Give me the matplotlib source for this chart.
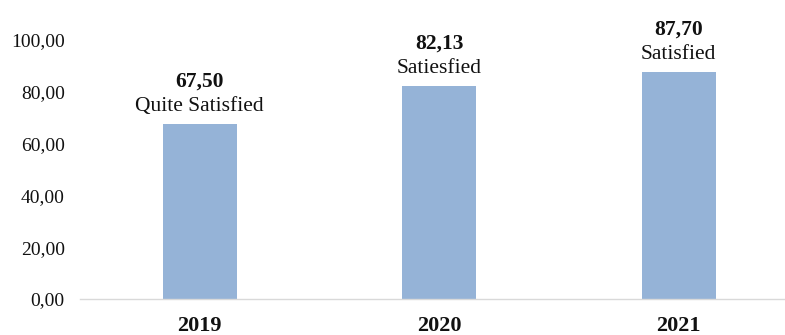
import matplotlib
matplotlib.use('Agg')
import matplotlib.pyplot as plt

# Satisfaction index per year
years = ['2019', '2020', '2021']
scores = [67.50, 82.13, 87.70]
categories = ['Quite Satisfied', 'Satiesfied', 'Satisfied']
y_ticks = [0, 20, 40, 60, 80, 100]

BAR_COLOR = '#95B3D7'

plt.rcParams['font.family'] = ['Liberation Serif', 'DejaVu Serif']

fig = plt.figure(figsize=(7.85, 3.35), dpi=100)
fig.patch.set_facecolor('white')
ax = fig.add_axes([80 / 785, 36 / 335, 705 / 785, 259 / 335])

x = range(len(years))
ax.bar(x, scores, width=0.31, color=BAR_COLOR)

for xi, val, cat in zip(x, scores, categories):
    lbl = f'{val:.2f}'.replace('.', ',')
    ax.annotate(cat, xy=(xi, val), xytext=(0, 9.5), textcoords='offset points',
                ha='center', va='baseline', fontsize=15.5, color='#111111')
    ax.annotate(lbl, xy=(xi, val), xytext=(0, 27), textcoords='offset points',
                ha='center', va='baseline', fontsize=15.5, fontweight='bold',
                color='#111111')

ax.set_xlim(-0.5, 705 / 239.5 - 0.5)
ax.set_ylim(0, 100)
ax.set_xticks(list(x))
ax.set_xticklabels(years, fontsize=16, fontweight='bold')
ax.set_yticks(y_ticks)
ax.set_yticklabels([f'{t:.2f}'.replace('.', ',') for t in y_ticks], fontsize=14)
ax.tick_params(axis='both', length=0, colors='#111111')
ax.tick_params(axis='y', pad=11)
ax.tick_params(axis='x', pad=12)

for s in ['top', 'right', 'left']:
    ax.spines[s].set_visible(False)
ax.spines['bottom'].set_color('#D9D9D9')
ax.spines['bottom'].set_linewidth(1.0)

fig.savefig('out.png', dpi=100, facecolor='white')
